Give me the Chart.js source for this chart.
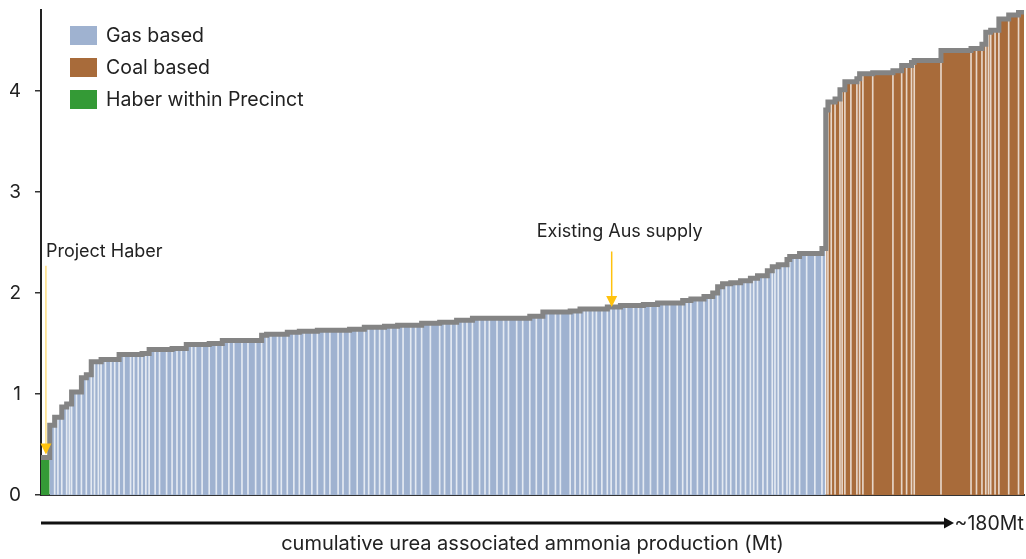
<!DOCTYPE html>
<html>
<head>
<meta charset="utf-8">
<title>Curva de costos urea</title>
<script src="https://cdn.jsdelivr.net/npm/chart.js@4.4.0/dist/chart.umd.min.js"></script>
<style>
    html, body { margin: 0; padding: 0; background: #fff; }
    #contenedor { width: 1026px; height: 559px; }
</style>
</head>
<body>
<div id="contenedor"><canvas id="grafico" width="1026" height="559"></canvas></div>
<script>
// Fuente y colores
const FUENTE = 'Inter, "Noto Sans", sans-serif';
const COLORES = {
    gas: '#9fb2d0',
    carbon: '#a86b3a',
    haber: '#349a36',
    contorno: '#848484',
    amarillo: '#ffc20e',
    amarilloClaro: '#ffdf80',
    texto: '#222222'
};

// Series (ancho = Mt de produccion, costo = eje Y)
const etiquetasSerie = ['Gas based', 'Coal based', 'Haber within Precinct'];

const haberAncho = [1.6];
const haberCosto = [0.37];

const gasAncho = [
    0.9, 0.6, 0.7, 0.9, 0.5, 0.4, 0.9, 0.9, 0.9, 0.9,
    0.6, 0.7, 0.5, 0.8, 1.0, 0.7, 0.8, 0.9, 1.2, 0.6,
    0.8, 0.7, 0.7, 0.6, 1.1, 0.8, 1.3, 1.0, 0.9, 0.8,
    0.9, 1.0, 0.7, 1.2, 1.3, 1.3, 1.1, 1.2, 0.9, 1.5,
    1.1, 1.4, 1.1, 0.9, 0.8, 1.2, 0.7, 1.1, 1.2, 1.0,
    0.9, 1.4, 1.0, 1.3, 1.0, 1.5, 0.9, 1.2, 1.4, 1.3,
    0.8, 1.1, 0.9, 0.9, 1.2, 1.2, 1.0, 1.4, 0.9, 1.1,
    1.6, 1.7, 0.9, 1.2, 1.0, 1.1, 0.8, 1.0, 1.3, 1.0,
    0.8, 1.4, 1.2, 0.9, 1.5, 1.1, 1.3, 1.2, 1.2, 1.0,
    1.3, 0.9, 1.8, 0.9, 0.9, 0.8, 0.6, 0.9, 0.7, 1.0,
    1.0, 0.7, 0.9, 0.8, 1.1, 1.3, 0.9, 0.9, 1.3, 1.3,
    1.2, 1.0, 1.4, 1.0, 0.8, 0.7, 1.2, 1.2, 0.9, 0.7,
    0.9, 0.9, 0.7, 0.8, 1.0, 0.8, 0.9, 0.9, 0.6, 0.7,
    1.0, 0.8, 0.9, 0.5, 0.6, 0.8, 0.8, 0.5, 0.9, 0.9,
    1.3, 1.5, 1.3, 0.7
];
const gasCosto = [
    0.69, 0.77, 0.77, 0.87, 0.90, 0.90, 1.02, 1.02, 1.16, 1.19,
    1.32, 1.32, 1.32, 1.34, 1.34, 1.34, 1.34, 1.39, 1.39, 1.39,
    1.39, 1.39, 1.40, 1.40, 1.44, 1.44, 1.44, 1.44, 1.45, 1.45,
    1.45, 1.49, 1.49, 1.49, 1.49, 1.50, 1.50, 1.53, 1.53, 1.53,
    1.53, 1.53, 1.53, 1.58, 1.59, 1.59, 1.59, 1.59, 1.61, 1.61,
    1.62, 1.62, 1.62, 1.63, 1.63, 1.63, 1.63, 1.63, 1.64, 1.64,
    1.66, 1.66, 1.66, 1.66, 1.67, 1.67, 1.68, 1.68, 1.68, 1.68,
    1.70, 1.70, 1.71, 1.71, 1.71, 1.73, 1.73, 1.73, 1.75, 1.75,
    1.75, 1.75, 1.75, 1.75, 1.75, 1.75, 1.75, 1.77, 1.77, 1.81,
    1.81, 1.81, 1.81, 1.82, 1.82, 1.84, 1.84, 1.84, 1.84, 1.84,
    1.84, 1.86, 1.86, 1.86, 1.875, 1.875, 1.875, 1.875, 1.885, 1.885,
    1.90, 1.90, 1.90, 1.90, 1.925, 1.925, 1.94, 1.94, 1.965, 1.965,
    2.00, 2.06, 2.09, 2.09, 2.10, 2.10, 2.12, 2.12, 2.145, 2.145,
    2.17, 2.17, 2.22, 2.26, 2.26, 2.28, 2.28, 2.33, 2.36, 2.36,
    2.39, 2.39, 2.39, 2.44
];

const carbonAncho = [
    0.4, 0.6, 0.7, 0.9, 0.4, 0.5, 1.1, 1.1, 0.5, 0.6,
    1.8, 3.7, 1.6, 0.9, 0.9, 0.5, 4.9, 5.5, 1.0, 1.0,
    0.7, 0.5, 0.4, 0.8, 0.7, 1.8, 1.8, 1.0
];
const carbonCosto = [
    3.81, 3.89, 3.89, 3.92, 4.01, 4.01, 4.09, 4.09, 4.12, 4.17,
    4.17, 4.18, 4.20, 4.25, 4.25, 4.28, 4.30, 4.40, 4.42, 4.42,
    4.46, 4.58, 4.58, 4.60, 4.60, 4.71, 4.75, 4.78
];

// Ejes
const ticksY = [0, 1, 2, 3, 4];
const tituloX = 'cumulative urea associated ammonia production (Mt)';
const textoFlecha = '~180Mt';

// Anotaciones: [texto, x (Mt), y del texto, y inicio flecha, y punta]
const notaHaber = ['Project Haber', 0.9, 2.36, 2.27, 0.40];
const notaAus = ['Existing Aus supply', 104.5, 2.55, 2.41, 1.86];

/**
 * Puntos escalonados para un grupo de plantas
 */
function construirEscalones(inicio, anchos, costos) {
    const puntos = [];
    let x = inicio;
    for (let i = 0; i < anchos.length; i++) {
        puntos.push({ x: x, y: costos[i] });
        x += anchos[i];
    }
    puntos.push({ x: x, y: costos[costos.length - 1] });
    return { puntos: puntos, fin: x };
}

const tramoHaber = construirEscalones(0, haberAncho, haberCosto);
const tramoGas = construirEscalones(tramoHaber.fin, gasAncho, gasCosto);
const tramoCarbon = construirEscalones(tramoGas.fin, carbonAncho, carbonCosto);

const todosAnchos = haberAncho.concat(gasAncho, carbonAncho);
const todosCostos = haberCosto.concat(gasCosto, carbonCosto);
const contorno = construirEscalones(0, todosAnchos, todosCostos);

// Lineas blancas entre plantas
const separadores = [];
let acumulado = haberAncho[0];
for (let i = 1; i < todosAnchos.length - 1; i++) {
    acumulado += todosAnchos[i];
    separadores.push({ x: acumulado, y: Math.min(todosCostos[i], todosCostos[i + 1]) });
}

function dibujarFlechaAbajo(ctx, x, yInicio, yPunta, colorLinea, colorPunta) {
    ctx.strokeStyle = colorLinea;
    ctx.lineWidth = 1.5;
    ctx.beginPath();
    ctx.moveTo(x, yInicio);
    ctx.lineTo(x, yPunta - 10);
    ctx.stroke();
    ctx.fillStyle = colorPunta;
    ctx.beginPath();
    ctx.moveTo(x - 5.5, yPunta - 11);
    ctx.lineTo(x + 5.5, yPunta - 11);
    ctx.lineTo(x, yPunta);
    ctx.closePath();
    ctx.fill();
}

// Leyenda, anotaciones y flecha del eje X
const extras = {
    id: 'extras',
    afterDraw(chart) {
        const { ctx, chartArea, scales } = chart;
        const ejeX = scales.x;
        const ejeY = scales.y;
        ctx.save();

        // leyenda
        const colores = [COLORES.gas, COLORES.carbon, COLORES.haber];
        ctx.font = '19.5px ' + FUENTE;
        ctx.textBaseline = 'middle';
        ctx.textAlign = 'left';
        etiquetasSerie.forEach(function(texto, i) {
            const yc = chartArea.top + 25 + i * 32;
            ctx.fillStyle = colores[i];
            ctx.fillRect(chartArea.left + 29, yc - 9, 27, 19);
            ctx.fillStyle = COLORES.texto;
            ctx.fillText(texto, chartArea.left + 65, yc + 1);
        });

        // anotaciones
        ctx.font = '18px ' + FUENTE;
        [notaHaber, notaAus].forEach(function(nota, i) {
            const x = ejeX.getPixelForValue(nota[1]);
            ctx.fillStyle = COLORES.texto;
            ctx.textBaseline = 'alphabetic';
            ctx.textAlign = i === 0 ? 'left' : 'center';
            const xt = i === 0 ? x : x + 8;
            ctx.fillText(nota[0], xt, ejeY.getPixelForValue(nota[2]));
            dibujarFlechaAbajo(ctx, x, ejeY.getPixelForValue(nota[3]), ejeY.getPixelForValue(nota[4]),
                i === 0 ? COLORES.amarilloClaro : COLORES.amarillo, COLORES.amarillo);
        });

        // flecha bajo el eje X
        const yf = chartArea.bottom + 28;
        const xFin = chartArea.right - 70;
        ctx.strokeStyle = '#111';
        ctx.lineWidth = 3;
        ctx.beginPath();
        ctx.moveTo(chartArea.left, yf);
        ctx.lineTo(xFin - 8, yf);
        ctx.stroke();
        ctx.fillStyle = '#111';
        ctx.beginPath();
        ctx.moveTo(xFin - 10, yf - 5.5);
        ctx.lineTo(xFin, yf);
        ctx.lineTo(xFin - 10, yf + 5.5);
        ctx.closePath();
        ctx.fill();
        ctx.font = '19.5px ' + FUENTE;
        ctx.fillStyle = COLORES.texto;
        ctx.textBaseline = 'middle';
        ctx.textAlign = 'right';
        ctx.fillText(textoFlecha, chartArea.right, yf + 1);

        ctx.restore();
    }
};

function datasetRelleno(etiqueta, puntos, color) {
    return {
        type: 'line',
        label: etiqueta,
        data: puntos,
        stepped: 'before',
        fill: 'origin',
        backgroundColor: color,
        borderWidth: 0,
        pointRadius: 0,
        order: 3
    };
}

new Chart(document.getElementById('grafico'), {
    type: 'line',
    data: {
        datasets: [
            {
                type: 'line',
                label: 'contorno',
                data: contorno.puntos,
                stepped: 'before',
                fill: false,
                borderColor: COLORES.contorno,
                borderWidth: 5,
                borderJoinStyle: 'miter',
                pointRadius: 0,
                order: 0
            },
            {
                type: 'bar',
                label: 'separadores',
                data: separadores,
                backgroundColor: 'rgba(255, 255, 255, 0.72)',
                borderWidth: 0,
                barThickness: 1,
                order: 1
            },
            datasetRelleno(etiquetasSerie[0], tramoGas.puntos, COLORES.gas),
            datasetRelleno(etiquetasSerie[1], tramoCarbon.puntos, COLORES.carbon),
            datasetRelleno(etiquetasSerie[2], tramoHaber.puntos, COLORES.haber)
        ]
    },
    options: {
        responsive: false,
        devicePixelRatio: 1,
        animation: false,
        layout: { padding: { left: 10, right: 2, top: 10, bottom: 0 } },
        plugins: {
            legend: { display: false },
            tooltip: { enabled: false }
        },
        scales: {
            x: {
                type: 'linear',
                min: 0,
                max: 180,
                offset: false,
                grid: { display: false, drawTicks: false },
                border: { display: true, color: '#333', width: 2 },
                ticks: { display: false },
                title: {
                    display: true,
                    text: tituloX,
                    color: COLORES.texto,
                    font: { family: FUENTE, size: 20 },
                    padding: { top: 37, bottom: 3 }
                }
            },
            y: {
                type: 'linear',
                min: 0,
                max: 4.8,
                afterBuildTicks: function(escala) {
                    escala.ticks = ticksY.map(function(v) { return { value: v }; });
                },
                afterFit: function(escala) {
                    escala.width = 31;
                    escala.paddingTop = 0;
                    escala.paddingBottom = 0;
                },
                grid: {
                    display: true,
                    drawOnChartArea: false,
                    drawTicks: true,
                    tickLength: 6,
                    color: '#333',
                    lineWidth: 1.5
                },
                border: { display: true, color: '#222', width: 2 },
                ticks: {
                    padding: 14,
                    color: COLORES.texto,
                    font: { family: FUENTE, size: 19 }
                }
            }
        }
    },
    plugins: [extras]
});
</script>
</body>
</html>
